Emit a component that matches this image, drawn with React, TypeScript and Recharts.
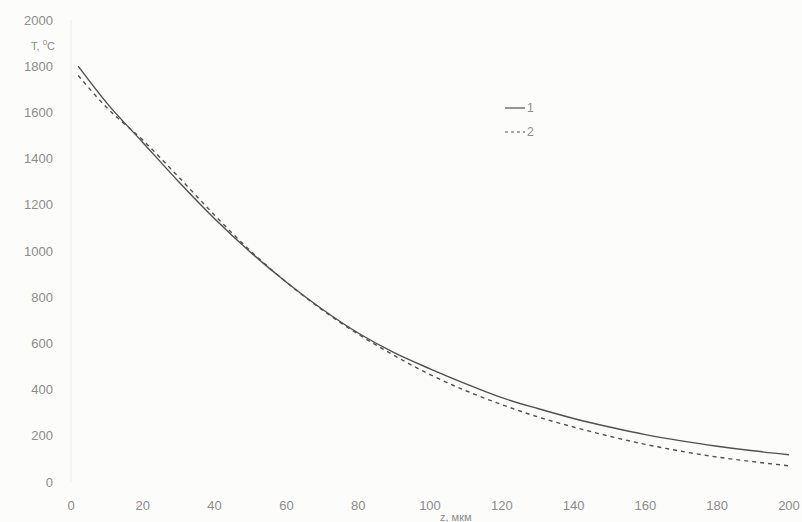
import { LineChart, Line, XAxis, YAxis } from "recharts"

// Temperature profile over depth, two calculation variants
const depth = [2, 10, 20, 30, 40, 50, 60, 70, 80, 90, 100, 110, 120, 130, 140, 150, 160, 170, 180, 190, 200]
const curve1 = [1800, 1640, 1470, 1300, 1140, 995, 865, 748, 645, 560, 490, 425, 365, 318, 275, 238, 205, 178, 155, 135, 118]
const curve2 = [1760, 1620, 1480, 1320, 1155, 1000, 865, 745, 640, 548, 465, 395, 335, 282, 238, 198, 163, 133, 108, 88, 70]

const xTicks = [0, 20, 40, 60, 80, 100, 120, 140, 160, 180, 200]
const yTicks = [0, 200, 400, 600, 800, 1000, 1200, 1400, 1600, 1800, 2000]

const textColor = "#8c8c8c"
const lineColor = "#505050"
const font = "'Liberation Sans', Arial, sans-serif"

const data = depth.map((z, i) => ({ z, t1: curve1[i], t2: curve2[i] }))

function LegendBox() {
  return (
    <div style={{ position: "absolute", left: 505, top: 96, fontFamily: font, fontSize: 12, color: textColor, lineHeight: "24px" }}>
      <div style={{ display: "flex", alignItems: "center" }}>
        <svg width={22} height={10}><line x1={0} y1={5} x2={20} y2={5} stroke={lineColor} strokeWidth={1.2} /></svg>
        <span>1</span>
      </div>
      <div style={{ display: "flex", alignItems: "center" }}>
        <svg width={22} height={10}><line x1={0} y1={5} x2={20} y2={5} stroke={lineColor} strokeWidth={1.2} strokeDasharray="3 3" /></svg>
        <span>2</span>
      </div>
    </div>
  )
}

export default function App() {
  return (
    <div style={{ position: "fixed", left: 0, top: 0, width: 802, height: 522, background: "#fcfcfa", overflow: "hidden" }}>
      <LineChart width={802} height={522} data={data} margin={{ top: 20, right: 13, left: 0, bottom: 10 }}>
        <XAxis
          dataKey="z"
          type="number"
          domain={[0, 200]}
          ticks={xTicks}
          axisLine={false}
          tickLine={false}
          tickSize={0}
          tickMargin={19}
          height={30}
          tick={{ fill: textColor, fontSize: 13, fontFamily: font }}
        />
        <YAxis
          type="number"
          domain={[0, 2000]}
          ticks={yTicks}
          width={71}
          axisLine={{ stroke: "#ececea" }}
          tickLine={false}
          tickSize={0}
          tickMargin={18}
          tick={{ fill: textColor, fontSize: 13, fontFamily: font }}
        />
        <Line dataKey="t1" type="monotone" stroke={lineColor} strokeWidth={1.4} dot={false} isAnimationActive={false} />
        <Line dataKey="t2" type="monotone" stroke={lineColor} strokeWidth={1.4} strokeDasharray="4 4" dot={false} isAnimationActive={false} />
      </LineChart>
      <LegendBox />
      <div style={{ position: "absolute", left: 31, top: 38, fontFamily: font, fontSize: 11, color: textColor }}>
        T, <sup style={{ fontSize: 8 }}>0</sup>C
      </div>
      <div style={{ position: "absolute", left: 440, top: 511, fontFamily: font, fontSize: 11, color: textColor }}>
        z, мкм
      </div>
    </div>
  )
}
